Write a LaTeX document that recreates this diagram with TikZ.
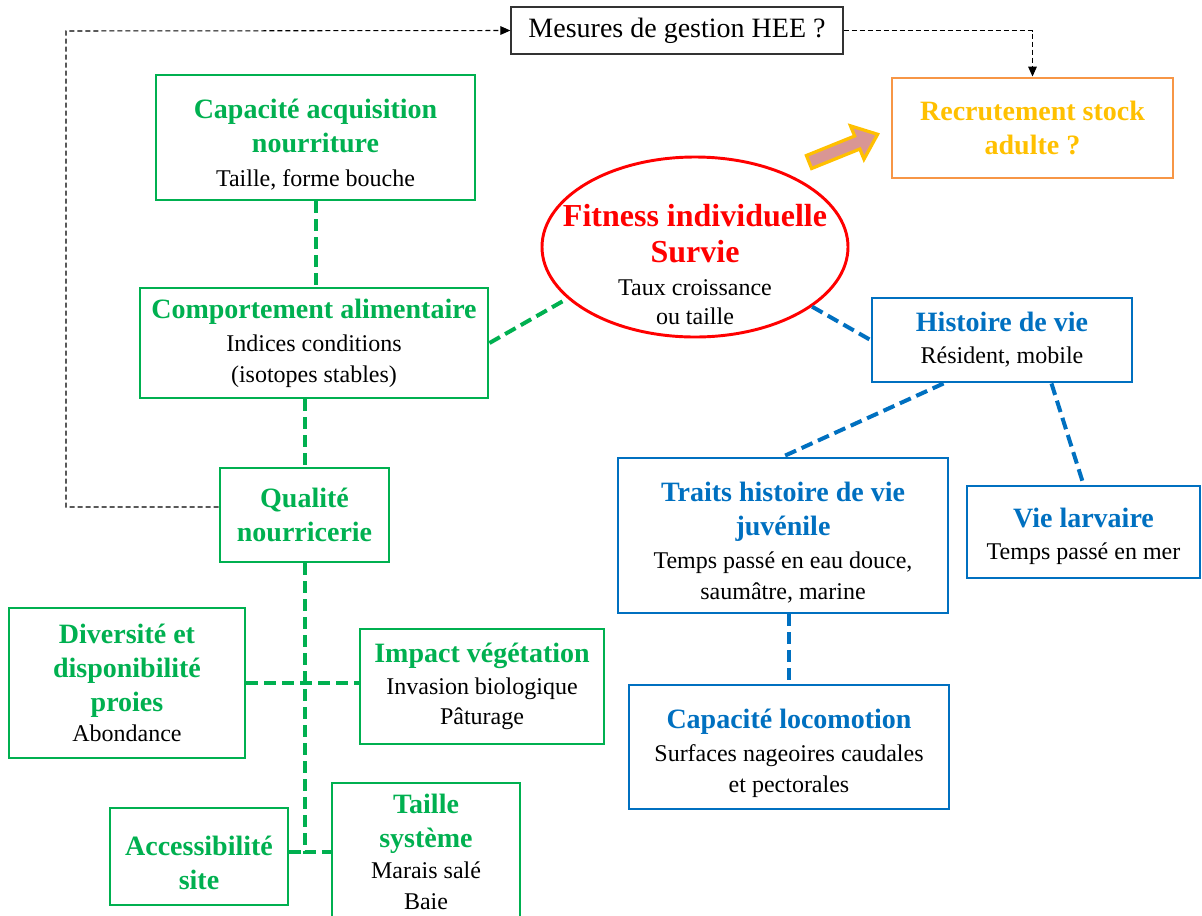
\documentclass[tikz,border=0pt]{standalone}
\usepackage{fontspec}
\setmainfont{Liberation Serif}
\usetikzlibrary{arrows.meta,positioning,shapes.geometric,calc}
\definecolor{hgreen}{HTML}{00B050}
\definecolor{hblue}{HTML}{0070C0}
\definecolor{hred}{HTML}{FF0000}
\definecolor{horange}{HTML}{F79646}
\definecolor{hgold}{HTML}{FFC000}
\definecolor{hpink}{HTML}{D99694}
\newcommand{\ttl}[2]{{\fontsize{21}{25}\selectfont\bfseries\color{#1}#2}}
\newcommand{\pushdown}[1]{\rule{0pt}{#1}}

\begin{document}
\begin{tikzpicture}[
  x=0.75pt,y=-0.75pt,
  font=\fontsize{18}{23}\selectfont,
  >={Triangle[length=7.5pt,width=6.5pt]},
  box/.style={draw,line width=2.2pt,align=center,inner sep=0pt},
  gbox/.style={box,draw=hgreen},
  bbox/.style={box,draw=hblue},
  glink/.style={hgreen,line width=3pt,dash pattern=on 9pt off 4.5pt},
  blink/.style={hblue,line width=3pt,dash pattern=on 9pt off 4.5pt},
  mlink/.style={black,line width=0.8pt,dash pattern=on 3.75pt off 2.25pt}
]
\useasboundingbox (0,0) rectangle (1202,915);

% Top: management and recruitment
\node[draw=black!80,line width=1pt,minimum width=249pt,minimum height=35.25pt,inner sep=0pt,
  font=\fontsize{21}{25}\selectfont] (mes) at (677,30.5) {Mesures de gestion HEE ?\hspace{6pt}};
\node[box,draw=horange,minimum width=210.75pt,minimum height=75pt] (recr) at (1032.5,128)
  {\ttl{hgold}{Recrutement stock}\\[2.5pt]\ttl{hgold}{adulte ?}};

% Central fitness ellipse
\node[ellipse,draw=hred,line width=2.2pt,inner sep=0pt,
  minimum width=229.5pt,minimum height=135pt] (fit) at (695,247) {};
\node[align=center,inner sep=0pt] (fittxt) at ($(fit.center)+(0,18)$)
  {{\fontsize{24}{28}\selectfont\bfseries\color{hred}Fitness individuelle}\\[4pt]
   {\fontsize{24}{28}\selectfont\bfseries\color{hred}Survie}\\[1.5pt]
   Taux croissance\\[-1pt]ou taille};

% Green branch (habitat)
\node[gbox,minimum width=239.25pt,minimum height=93.75pt] (cap) at (315.5,137.5)
  {\pushdown{25.5pt}\ttl{hgreen}{Capacité acquisition}\\[2.5pt]\ttl{hgreen}{nourriture}\\[2pt]Taille, forme bouche};
\node[gbox,minimum width=261pt,minimum height=82.5pt] (comp) at (314,343)
  {\ttl{hgreen}{Comportement alimentaire}\\[2pt]Indices conditions\\(isotopes stables)};
\node[gbox,minimum width=126.75pt,minimum height=70.5pt] (qual) at (304.5,515)
  {\ttl{hgreen}{Qualité}\\[2.5pt]\ttl{hgreen}{nourricerie}};
\node[gbox,minimum width=177pt,minimum height=112.5pt] (div) at (127,683)
  {\ttl{hgreen}{Diversité et}\\[2.5pt]\ttl{hgreen}{disponibilité}\\[2.5pt]\ttl{hgreen}{proies}\\Abondance};
\node[gbox,minimum width=183pt,minimum height=86.25pt] (imp) at (482,686.5)
  {\ttl{hgreen}{Impact végétation}\\[1pt]Invasion biologique\\Pâturage};
\node[gbox,minimum width=133.5pt,minimum height=72.75pt] (acc) at (199,856.5)
  {\pushdown{24pt}\ttl{hgreen}{Accessibilité}\\[2.5pt]\ttl{hgreen}{site}};
\node[gbox,minimum width=141pt,minimum height=103.5pt] (tail) at (426,852)
  {\ttl{hgreen}{Taille}\\[2.5pt]\ttl{hgreen}{système}\\Marais salé\\Baie};

% Blue branch (life history)
\node[bbox,minimum width=195pt,minimum height=63pt] (hist) at (1002,340)
  {\ttl{hblue}{Histoire de vie}\\[1pt]Résident, mobile};
\node[bbox,minimum width=247.5pt,minimum height=116.25pt] (traits) at (783,535.5)
  {\pushdown{24.8pt}\ttl{hblue}{Traits histoire de vie}\\[2.5pt]\ttl{hblue}{juvénile}\\[2pt]Temps passé en eau douce,\\saumâtre, marine};
\node[bbox,minimum width=174.75pt,minimum height=69pt] (larv) at (1083.5,532)
  {\pushdown{21.8pt}\ttl{hblue}{Vie larvaire}\\[1pt]Temps passé en mer};
\node[bbox,minimum width=240pt,minimum height=93pt] (loco) at (789,747)
  {\pushdown{24pt}\ttl{hblue}{Capacité locomotion}\\[2pt]Surfaces nageoires caudales\\et pectorales};

% Green links
\draw[glink] (cap.south) -- (cap.south |- comp.north);
\draw[glink] (comp.east) -- (fit.202);
\draw[glink] (qual.north |- comp.south) -- (qual.north);
\coordinate (j) at (qual.south |- tail.west);
\draw[glink] (qual.south) -- (j) -- (tail.west);
\draw[glink] (acc.east |- j) -- (j);
\draw[glink] (div.east) -- (div.east -| imp.west);

% Blue links
\draw[blink] (fit.333) -- (hist.west);
\draw[blink] ($(hist.south west)+(73,0)$) -- (traits.north);
\draw[blink] ($(hist.south east)+(-82,0)$) -- (larv.north);
\draw[blink] (loco.north |- traits.south) -- (loco.north);

% Management loop
\coordinate (lp) at (66,31);
\draw[mlink,->] ($(qual.west)+(0,-8)$) -| (lp) -- (mes.west);
\draw[mlink,->] (mes.east) -| (recr.north);

% Block arrow towards recruitment
\begin{scope}[shift={(809,162)},rotate=22]
  \draw[hgold,line width=2.4pt,fill=hpink,line join=miter]
    (0,-7) -- (52,-7) -- (52,-18) -- (74,0) -- (52,18) -- (52,7) -- (0,7) -- cycle;
\end{scope}
\end{tikzpicture}
\end{document}
